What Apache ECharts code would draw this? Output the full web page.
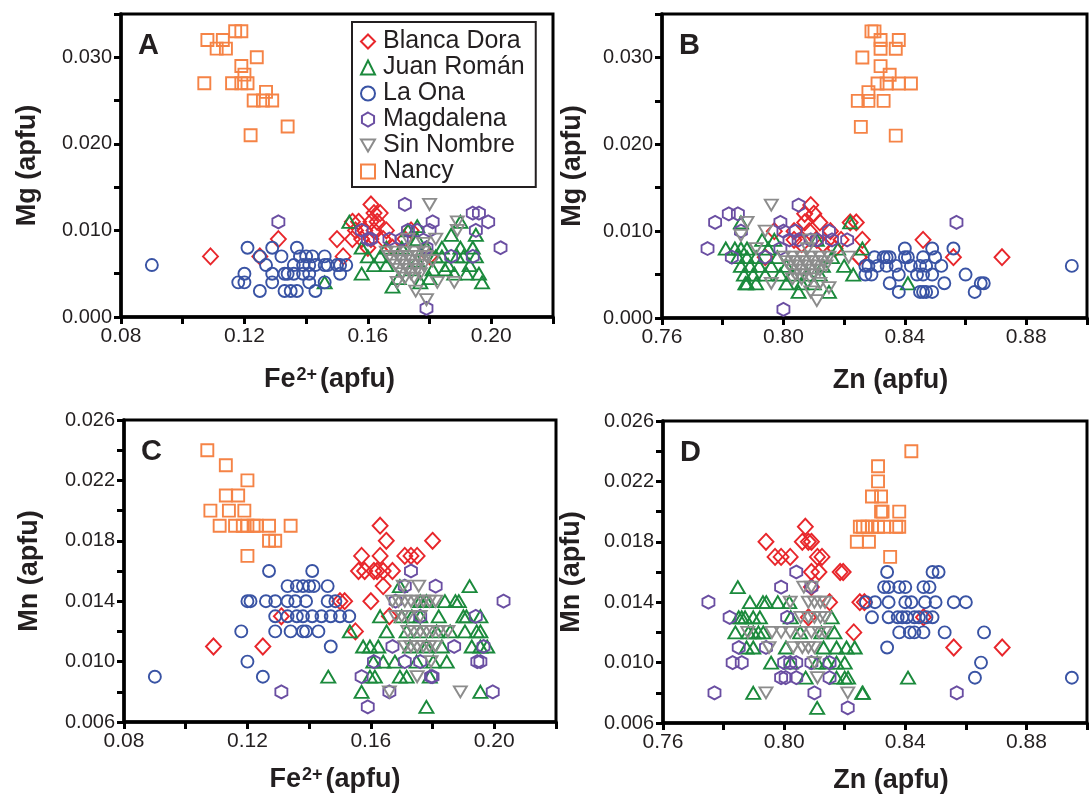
<!DOCTYPE html>
<html><head><meta charset="utf-8">
<script src="https://cdn.jsdelivr.net/npm/echarts@6/dist/echarts.min.js"></script>
<style>html,body{margin:0;padding:0;background:#fff}#c{width:1090px;height:796px}</style>
</head><body><div id="c"></div>
<script>
// ---------- DATA ----------
const seriesNames = ['Blanca Dora', 'Juan Román', 'La Ona', 'Magdalena', 'Sin Nombre', 'Nancy'];
const panelLetters = ['A', 'B', 'C', 'D'];

// Panel A: Fe2+ (apfu) vs Mg (apfu)
const blancaA = [[0.109,0.007],[0.125,0.007],[0.131,0.009],[0.161,0.013],[0.162,0.012],[0.164,0.012],[0.155,0.011],[0.157,0.011],[0.161,0.011],[0.163,0.011],[0.156,0.010],[0.159,0.010],[0.162,0.010],[0.150,0.009],[0.155,0.009],[0.161,0.009],[0.165,0.009],[0.152,0.007],[0.160,0.008],[0.174,0.010],[0.180,0.007],[0.158,0.009],[0.166,0.010],[0.168,0.008],[0.172,0.009]];
const juanA = [[0.154,0.011],[0.158,0.008],[0.160,0.007],[0.162,0.006],[0.166,0.008],[0.168,0.0035],[0.170,0.0045],[0.176,0.0105],[0.176,0.009],[0.177,0.004],[0.181,0.0055],[0.184,0.008],[0.184,0.007],[0.186,0.006],[0.190,0.011],[0.190,0.008],[0.191,0.007],[0.193,0.006],[0.194,0.008],[0.195,0.007],[0.196,0.005],[0.197,0.004],[0.188,0.005],[0.192,0.005],[0.187,0.0095],[0.179,0.008],[0.182,0.007],[0.185,0.0055],[0.173,0.010],[0.176,0.0065],[0.164,0.007],[0.166,0.006],[0.180,0.0045],[0.174,0.0055],[0.158,0.005],[0.146,0.004],[0.171,0.008],[0.189,0.007],[0.195,0.0095]];
const laOnaA = [[0.090,0.006],[0.121,0.008],[0.120,0.005],[0.118,0.004],[0.120,0.004],[0.125,0.003],[0.129,0.008],[0.132,0.007],[0.127,0.006],[0.129,0.005],[0.129,0.004],[0.125,0.007],[0.133,0.005],[0.134,0.005],[0.133,0.003],[0.135,0.003],[0.137,0.003],[0.137,0.008],[0.138,0.007],[0.140,0.007],[0.142,0.007],[0.136,0.006],[0.139,0.006],[0.141,0.006],[0.136,0.005],[0.139,0.005],[0.141,0.005],[0.141,0.004],[0.143,0.003],[0.143,0.006],[0.146,0.007],[0.146,0.006],[0.147,0.006],[0.150,0.006],[0.151,0.006],[0.153,0.006],[0.151,0.005],[0.146,0.004]];
const magA = [[0.131,0.011],[0.172,0.013],[0.181,0.011],[0.194,0.012],[0.196,0.012],[0.199,0.011],[0.195,0.010],[0.203,0.008],[0.158,0.010],[0.160,0.009],[0.161,0.009],[0.167,0.009],[0.173,0.010],[0.176,0.010],[0.180,0.010],[0.171,0.009],[0.179,0.008],[0.187,0.007],[0.194,0.007],[0.179,0.001]];
const sinA = [[0.180,0.013],[0.189,0.011],[0.189,0.010],[0.182,0.009],[0.173,0.009],[0.179,0.002],[0.1755,0.003],[0.188,0.004],[0.1825,0.004],[0.1695,0.004],[0.166,0.0075],[0.169,0.0075],[0.172,0.0075],[0.175,0.0075],[0.178,0.0075],[0.167,0.007],[0.170,0.007],[0.173,0.007],[0.176,0.007],[0.179,0.007],[0.168,0.0065],[0.171,0.0065],[0.174,0.0065],[0.177,0.0065],[0.169,0.006],[0.172,0.006],[0.175,0.006],[0.178,0.006],[0.170,0.0055],[0.173,0.0055],[0.176,0.0055],[0.171,0.005],[0.174,0.005],[0.177,0.005],[0.172,0.0045],[0.175,0.0045],[0.181,0.0065],[0.178,0.0085]];
const nancyA = [[0.108,0.032],[0.111,0.031],[0.113,0.032],[0.114,0.031],[0.117,0.033],[0.119,0.033],[0.124,0.030],[0.119,0.029],[0.120,0.028],[0.107,0.027],[0.116,0.027],[0.119,0.027],[0.121,0.027],[0.127,0.026],[0.123,0.025],[0.126,0.025],[0.129,0.025],[0.134,0.022],[0.122,0.021]];

// Panel B: Zn (apfu) vs Mg (apfu)
const blancaB = [[0.826,0.009],[0.825,0.007],[0.846,0.009],[0.856,0.007],[0.872,0.007],[0.824,0.011],[0.809,0.013],[0.807,0.012],[0.810,0.012],[0.812,0.011],[0.807,0.011],[0.822,0.011],[0.8085,0.010],[0.8155,0.010],[0.797,0.010],[0.8035,0.010],[0.811,0.009],[0.819,0.009],[0.817,0.008],[0.825,0.007],[0.794,0.007],[0.8035,0.009],[0.813,0.0085],[0.806,0.0085]];
const juanB = [[0.786,0.011],[0.784,0.008],[0.786,0.008],[0.788,0.008],[0.785,0.007],[0.788,0.007],[0.791,0.007],[0.786,0.006],[0.789,0.006],[0.792,0.006],[0.787,0.005],[0.790,0.005],[0.794,0.005],[0.788,0.004],[0.791,0.004],[0.7875,0.004],[0.793,0.009],[0.795,0.008],[0.798,0.007],[0.801,0.006],[0.799,0.005],[0.803,0.005],[0.801,0.004],[0.806,0.004],[0.808,0.005],[0.810,0.004],[0.812,0.005],[0.815,0.003],[0.813,0.006],[0.816,0.007],[0.818,0.008],[0.820,0.006],[0.823,0.005],[0.826,0.008],[0.822,0.011],[0.841,0.004],[0.797,0.009],[0.811,0.009],[0.805,0.003],[0.781,0.008],[0.796,0.006]];
const laOnaB = [[0.895,0.006],[0.856,0.008],[0.860,0.005],[0.865,0.004],[0.866,0.004],[0.863,0.003],[0.853,0.004],[0.840,0.008],[0.849,0.008],[0.830,0.007],[0.833,0.007],[0.834,0.007],[0.835,0.007],[0.840,0.007],[0.841,0.007],[0.846,0.007],[0.850,0.007],[0.828,0.006],[0.831,0.006],[0.834,0.006],[0.837,0.006],[0.842,0.006],[0.845,0.006],[0.847,0.006],[0.852,0.006],[0.829,0.005],[0.838,0.005],[0.844,0.005],[0.846,0.005],[0.849,0.005],[0.835,0.004],[0.838,0.003],[0.845,0.003],[0.846,0.003],[0.847,0.003],[0.849,0.003],[0.827,0.006],[0.827,0.005]];
const magB = [[0.805,0.013],[0.7775,0.011],[0.782,0.012],[0.785,0.012],[0.786,0.010],[0.775,0.008],[0.783,0.007],[0.799,0.011],[0.800,0.010],[0.804,0.010],[0.802,0.009],[0.805,0.009],[0.809,0.009],[0.811,0.009],[0.799,0.008],[0.815,0.010],[0.816,0.009],[0.821,0.009],[0.794,0.007],[0.800,0.001],[0.857,0.011]];
const sinB = [[0.796,0.013],[0.788,0.011],[0.794,0.010],[0.8085,0.009],[0.796,0.004],[0.803,0.0045],[0.809,0.003],[0.811,0.002],[0.815,0.0035],[0.8215,0.007],[0.812,0.004],[0.800,0.007],[0.803,0.007],[0.806,0.007],[0.809,0.007],[0.812,0.007],[0.815,0.007],[0.801,0.0065],[0.804,0.0065],[0.807,0.0065],[0.810,0.0065],[0.813,0.0065],[0.802,0.006],[0.805,0.006],[0.808,0.006],[0.811,0.006],[0.814,0.006],[0.803,0.0055],[0.806,0.0055],[0.809,0.0055],[0.812,0.0055],[0.804,0.005],[0.807,0.005],[0.810,0.005],[0.806,0.0045],[0.809,0.0045],[0.791,0.008],[0.786,0.0095],[0.808,0.008]];
const nancyB = [[0.829,0.033],[0.830,0.033],[0.832,0.032],[0.838,0.032],[0.832,0.031],[0.837,0.031],[0.826,0.030],[0.832,0.029],[0.835,0.028],[0.831,0.027],[0.834,0.027],[0.838,0.027],[0.842,0.027],[0.828,0.026],[0.8245,0.025],[0.828,0.025],[0.833,0.025],[0.8255,0.022],[0.837,0.021]];

// Panel C: Fe2+ (apfu) vs Mn (apfu)
const blancaC = [[0.109,0.011],[0.125,0.011],[0.131,0.013],[0.180,0.018],[0.163,0.019],[0.165,0.018],[0.157,0.017],[0.163,0.017],[0.171,0.017],[0.173,0.017],[0.175,0.017],[0.156,0.016],[0.161,0.016],[0.164,0.016],[0.167,0.016],[0.164,0.015],[0.150,0.014],[0.1515,0.014],[0.160,0.014],[0.166,0.013],[0.155,0.012],[0.162,0.016],[0.158,0.016]];
const juanC = [[0.192,0.015],[0.1694,0.015],[0.176,0.014],[0.178,0.014],[0.184,0.014],[0.1874,0.014],[0.1885,0.014],[0.163,0.013],[0.170,0.013],[0.1733,0.013],[0.176,0.013],[0.182,0.013],[0.190,0.013],[0.191,0.013],[0.1955,0.013],[0.1532,0.012],[0.1651,0.012],[0.1716,0.012],[0.176,0.012],[0.1813,0.012],[0.1857,0.012],[0.1905,0.012],[0.1943,0.012],[0.1955,0.012],[0.1575,0.011],[0.1597,0.011],[0.1624,0.011],[0.1727,0.011],[0.178,0.011],[0.183,0.011],[0.1927,0.011],[0.1955,0.011],[0.1977,0.011],[0.1608,0.010],[0.164,0.010],[0.1678,0.010],[0.1748,0.010],[0.1802,0.010],[0.1846,0.010],[0.1462,0.009],[0.1597,0.009],[0.1613,0.009],[0.1694,0.009],[0.1716,0.009],[0.1791,0.009],[0.157,0.008],[0.1955,0.008],[0.178,0.007]];
const laOnaC = [[0.090,0.009],[0.127,0.016],[0.141,0.016],[0.133,0.015],[0.136,0.015],[0.138,0.015],[0.140,0.015],[0.1415,0.015],[0.146,0.015],[0.120,0.014],[0.121,0.014],[0.126,0.014],[0.129,0.014],[0.133,0.014],[0.1355,0.014],[0.139,0.014],[0.146,0.014],[0.1485,0.014],[0.129,0.013],[0.133,0.013],[0.136,0.013],[0.138,0.013],[0.141,0.013],[0.144,0.013],[0.147,0.013],[0.150,0.013],[0.153,0.013],[0.118,0.012],[0.129,0.012],[0.134,0.012],[0.138,0.012],[0.139,0.012],[0.143,0.012],[0.147,0.011],[0.120,0.010],[0.125,0.009]];
const magC = [[0.131,0.008],[0.173,0.016],[0.181,0.015],[0.203,0.014],[0.171,0.015],[0.168,0.014],[0.194,0.013],[0.176,0.013],[0.167,0.011],[0.187,0.011],[0.1965,0.011],[0.161,0.010],[0.171,0.010],[0.176,0.010],[0.1945,0.010],[0.1955,0.010],[0.157,0.009],[0.1795,0.009],[0.180,0.009],[0.166,0.008],[0.1995,0.008],[0.159,0.007]];
const sinC = [[0.1755,0.015],[0.1705,0.015],[0.167,0.014],[0.169,0.014],[0.171,0.014],[0.173,0.014],[0.175,0.014],[0.177,0.014],[0.179,0.014],[0.181,0.014],[0.168,0.013],[0.170,0.013],[0.172,0.013],[0.176,0.013],[0.172,0.012],[0.174,0.012],[0.176,0.012],[0.178,0.012],[0.180,0.012],[0.182,0.012],[0.185,0.012],[0.171,0.011],[0.173,0.011],[0.175,0.011],[0.177,0.011],[0.179,0.011],[0.181,0.011],[0.1795,0.010],[0.175,0.009],[0.166,0.008],[0.189,0.008]];
const nancyC = [[0.107,0.024],[0.113,0.023],[0.120,0.022],[0.113,0.021],[0.117,0.021],[0.108,0.020],[0.114,0.020],[0.119,0.020],[0.111,0.019],[0.116,0.019],[0.1185,0.019],[0.120,0.019],[0.122,0.019],[0.123,0.019],[0.127,0.019],[0.134,0.019],[0.127,0.018],[0.129,0.018],[0.120,0.017]];

// Panel D: Zn (apfu) vs Mn (apfu)
const blancaD = [[0.794,0.018],[0.807,0.019],[0.806,0.018],[0.808,0.018],[0.809,0.018],[0.797,0.017],[0.799,0.017],[0.802,0.017],[0.8125,0.017],[0.811,0.017],[0.809,0.016],[0.8115,0.016],[0.8185,0.016],[0.8195,0.016],[0.809,0.015],[0.815,0.014],[0.808,0.013],[0.823,0.012],[0.825,0.014],[0.8265,0.014],[0.846,0.013],[0.856,0.011],[0.872,0.011]];
const juanD = [[0.7847,0.015],[0.7887,0.014],[0.793,0.014],[0.7941,0.014],[0.7979,0.014],[0.8017,0.014],[0.785,0.013],[0.786,0.013],[0.7871,0.013],[0.7898,0.013],[0.792,0.013],[0.8022,0.013],[0.8157,0.013],[0.7839,0.012],[0.7882,0.012],[0.7898,0.012],[0.7915,0.012],[0.7931,0.012],[0.8053,0.012],[0.8123,0.012],[0.8166,0.012],[0.7876,0.011],[0.7898,0.011],[0.8006,0.011],[0.813,0.011],[0.8173,0.011],[0.8206,0.011],[0.8233,0.011],[0.7957,0.010],[0.8022,0.010],[0.8109,0.010],[0.8141,0.010],[0.8173,0.010],[0.820,0.010],[0.8071,0.009],[0.8173,0.009],[0.820,0.009],[0.8211,0.009],[0.8409,0.009],[0.7898,0.008],[0.8258,0.008],[0.826,0.008],[0.8109,0.007]];
const laOnaD = [[0.834,0.016],[0.849,0.016],[0.851,0.016],[0.833,0.015],[0.8345,0.015],[0.838,0.015],[0.840,0.015],[0.846,0.015],[0.848,0.015],[0.827,0.014],[0.830,0.014],[0.8345,0.014],[0.840,0.014],[0.842,0.014],[0.8465,0.014],[0.850,0.014],[0.856,0.014],[0.860,0.014],[0.829,0.013],[0.8345,0.013],[0.8375,0.013],[0.839,0.013],[0.8405,0.013],[0.843,0.013],[0.8445,0.013],[0.847,0.013],[0.849,0.013],[0.838,0.012],[0.8415,0.012],[0.843,0.012],[0.846,0.012],[0.853,0.012],[0.866,0.012],[0.834,0.011],[0.865,0.010],[0.863,0.009],[0.895,0.009]];
const magD = [[0.775,0.014],[0.782,0.013],[0.785,0.011],[0.783,0.010],[0.786,0.010],[0.777,0.008],[0.799,0.015],[0.804,0.016],[0.801,0.013],[0.794,0.011],[0.800,0.010],[0.802,0.010],[0.804,0.010],[0.799,0.009],[0.8005,0.009],[0.804,0.009],[0.809,0.010],[0.815,0.010],[0.815,0.009],[0.810,0.008],[0.821,0.007],[0.809,0.015],[0.857,0.008]];
const sinD = [[0.8065,0.015],[0.809,0.015],[0.802,0.014],[0.808,0.014],[0.810,0.014],[0.812,0.014],[0.8135,0.014],[0.8055,0.013],[0.808,0.013],[0.810,0.013],[0.812,0.013],[0.8135,0.013],[0.788,0.012],[0.796,0.012],[0.799,0.012],[0.802,0.012],[0.8055,0.012],[0.809,0.012],[0.8115,0.012],[0.8135,0.012],[0.795,0.011],[0.803,0.011],[0.806,0.011],[0.808,0.011],[0.810,0.011],[0.810,0.010],[0.811,0.009],[0.794,0.008],[0.821,0.008]];
const nancyD = [[0.842,0.024],[0.831,0.023],[0.831,0.022],[0.829,0.021],[0.832,0.021],[0.832,0.020],[0.838,0.020],[0.825,0.019],[0.826,0.019],[0.8275,0.019],[0.829,0.019],[0.831,0.019],[0.833,0.019],[0.837,0.019],[0.838,0.019],[0.824,0.018],[0.828,0.018],[0.835,0.017],[0.8325,0.020]];

const panelData = [
  [blancaA, juanA, laOnaA, magA, sinA, nancyA],
  [blancaB, juanB, laOnaB, magB, sinB, nancyB],
  [blancaC, juanC, laOnaC, magC, sinC, nancyC],
  [blancaD, juanD, laOnaD, magD, sinD, nancyD]
];

// ---------- STYLE ----------
const FONT = '"Liberation Sans", Arial, Helvetica, sans-serif';
const INK = '#231f20';
const colors = ['#e8262b', '#1b8a3c', '#3953a4', '#6a4ea2', '#8c8c8c', '#f58346'];
const symbols = [
  'diamond',
  'triangle',
  'circle',
  'path://M5,0 L9.33,2.5 L9.33,7.5 L5,10 L0.67,7.5 L0.67,2.5 Z',
  'path://M0,0 L10,0 L5,8.66 Z',
  'rect'
];
const sizes = [[15, 16], [14, 12], [12, 12], [12, 13], [13, 11], [12, 12]];

const grids = [
  {left: 121, top: 14, width: 432, height: 303},
  {left: 662, top: 14, width: 434, height: 304},
  {left: 124, top: 420, width: 432, height: 302},
  {left: 663, top: 421, width: 432, height: 302}
];

const nameStyle = (pad) => ({
  fontFamily: FONT, fontWeight: 'bold', fontSize: 27, color: INK, padding: pad,
  rich: {
    a: {fontFamily: FONT, fontWeight: 'bold', fontSize: 27, color: INK},
    s: {fontFamily: FONT, fontWeight: 'bold', fontSize: 18, color: INK, verticalAlign: 'top', padding: [0, 3, 10, 1]}
  }
});

function xAxis(gi, min, max, isFe, gap, pad) {
  return {
    gridIndex: gi, type: 'value', min: min, max: max, interval: 0.02,
    name: isFe ? '{a|Fe}{s|2+}{a|(apfu)}' : '{a|Zn (apfu)}',
    nameLocation: 'middle', nameGap: gap, nameTextStyle: nameStyle(pad),
    axisLine: {show: true, onZero: false, lineStyle: {color: '#000', width: 3.5}},
    axisTick: {show: true, length: 7, lineStyle: {color: '#000', width: 3}},
    axisLabel: {
      fontFamily: FONT, fontSize: 21, color: INK, margin: 9,
      formatter: v => (Math.round(v * 100) % 4 === 0 ? v.toFixed(2) : '')
    },
    splitLine: {show: false}
  };
}
function yAxis(gi, min, max, interval, isMg, gap) {
  return {
    gridIndex: gi, type: 'value', min: min, max: max, interval: interval,
    name: isMg ? 'Mg (apfu)' : 'Mn (apfu)',
    nameLocation: 'middle', nameGap: gap, nameTextStyle: nameStyle([0, 0, 0, 0]),
    axisLine: {show: true, onZero: false, lineStyle: {color: '#000', width: 3.5}},
    axisTick: {show: true, length: 7, lineStyle: {color: '#000', width: 3}},
    axisLabel: {
      fontFamily: FONT, fontSize: 20, color: INK, margin: 9,
      formatter: v => {
        const m = Math.round(v * 1000);
        if (isMg) return m % 10 === 0 ? v.toFixed(3) : '';
        return (m - 6) % 4 === 0 ? v.toFixed(3) : '';
      }
    },
    splitLine: {show: false}
  };
}

const series = [];
panelData.forEach((arrs, gi) => {
  arrs.forEach((arr, si) => {
    series.push({
      type: 'scatter', name: seriesNames[si], xAxisIndex: gi, yAxisIndex: gi,
      data: arr, symbol: symbols[si], symbolSize: sizes[si],
      itemStyle: {color: 'rgba(255,255,255,0)', borderColor: colors[si], borderWidth: 1.9, opacity: 1},
      emphasis: {disabled: true}, animation: false
    });
  });
});

const option = {
  backgroundColor: '#fff',
  animation: false,
  grid: grids.map(g => Object.assign({show: true, borderColor: '#000', borderWidth: 3, backgroundColor: 'transparent'}, g)),
  xAxis: [
    xAxis(0, 0.08, 0.22, true, 49, [0, 15, 0, 0]),
    xAxis(1, 0.76, 0.90, false, 49, [0, 0, 0, 32]),
    xAxis(2, 0.08, 0.22, true, 44, [0, 10, 0, 0]),
    xAxis(3, 0.76, 0.90, false, 44, [0, 0, 0, 32])
  ],
  yAxis: [
    yAxis(0, 0, 0.035, 0.005, true, 80),
    yAxis(1, 0, 0.035, 0.005, true, 76),
    yAxis(2, 0.006, 0.026, 0.002, false, 81),
    yAxis(3, 0.006, 0.026, 0.002, false, 78)
  ],
  legend: {
    orient: 'vertical', left: 352, top: 22,
    data: seriesNames,
    padding: [7, 11, 3, 8], itemGap: 1, itemWidth: 14, itemHeight: 14,
    borderColor: INK, borderWidth: 2, backgroundColor: '#fff',
    textStyle: {fontFamily: FONT, fontSize: 25, lineHeight: 23, color: INK, padding: [0, 0, 0, 3]},
    selectedMode: false
  },
  graphic: panelLetters.map((t, i) => ({
    type: 'text', left: grids[i].left + 17, top: grids[i].top + 17, z: 100,
    style: {text: t, font: 'bold 29px ' + FONT, fill: INK}
  })),
  series: series
};

const chart = echarts.init(document.getElementById('c'), null, {renderer: 'canvas'});
chart.setOption(option);
</script>
</body></html>
